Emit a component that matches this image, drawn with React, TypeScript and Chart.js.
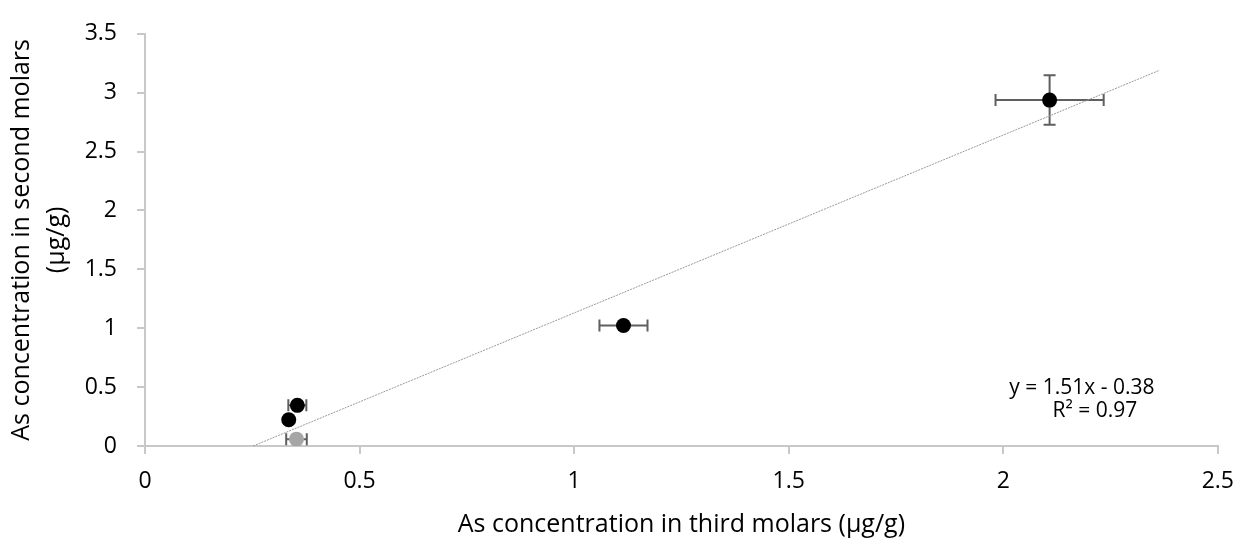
import React, { useEffect, useRef } from "react";
import { Chart, registerables } from "chart.js";

Chart.register(...registerables);

// Black points: As in third molars (x) vs second molars (y)
const thirdMolars = [0.335, 0.355, 1.115, 2.108];
const secondMolars = [0.223, 0.345, 1.023, 2.937];
const thirdMolarsErr = [0, 0.021, 0.056, 0.126];
const secondMolarsErr = [0, 0, 0, 0.21];

// Grey (excluded) point
const greyThird = [0.353];
const greySecond = [0.058];
const greyThirdErr = [0.024];
const greySecondErr = [0];

// Linear trendline y = 1.51x - 0.38 (end points as drawn)
const trendX = [0.252, 2.364];
const trendY = [0.0, 3.19];

const xTickValues = [0, 0.5, 1, 1.5, 2, 2.5];
const xTickLabels = ["0", "0.5", "1", "1.5", "2", "2.5"];
const yTickValues = [0, 0.5, 1, 1.5, 2, 2.5, 3, 3.5];
const yTickLabels = ["0", "0.5", "1", "1.5", "2", "2.5", "3", "3.5"];

const xTitle = "As concentration in third molars (µg/g)";
const yTitle = ["As concentration in second molars", "(µg/g)"];
const equationLines = ["y = 1.51x - 0.38", "R² = 0.97"];

const FONT = "'Open Sans', 'Noto Sans', sans-serif";
const AXIS_COLOR = "#C8C8C8";

const errorBarPlugin = {
  id: "errorBars",
  beforeDatasetsDraw(chart: any) {
    const ctx = chart.ctx;
    const xs = chart.scales.x;
    const ys = chart.scales.y;
    chart.data.datasets.forEach((ds: any) => {
      if (!ds.errX) return;
      ctx.save();
      ctx.strokeStyle = "#5F5F5F";
      ctx.lineWidth = 2;
      const cap = 6;
      ds.data.forEach((p: any, i: number) => {
        const ex = ds.errX[i] || 0;
        const ey = ds.errY[i] || 0;
        const cx = xs.getPixelForValue(p.x);
        const cy = ys.getPixelForValue(p.y);
        if (ex > 0) {
          const l = xs.getPixelForValue(p.x - ex);
          const r = xs.getPixelForValue(p.x + ex);
          ctx.beginPath();
          ctx.moveTo(l, cy);
          ctx.lineTo(r, cy);
          ctx.moveTo(l, cy - cap);
          ctx.lineTo(l, cy + cap);
          ctx.moveTo(r, cy - cap);
          ctx.lineTo(r, cy + cap);
          ctx.stroke();
        }
        if (ey > 0) {
          const t = ys.getPixelForValue(p.y + ey);
          const b = ys.getPixelForValue(p.y - ey);
          ctx.beginPath();
          ctx.moveTo(cx, t);
          ctx.lineTo(cx, b);
          ctx.moveTo(cx - cap, t);
          ctx.lineTo(cx + cap, t);
          ctx.moveTo(cx - cap, b);
          ctx.lineTo(cx + cap, b);
          ctx.stroke();
        }
      });
      ctx.restore();
    });
  },
};

const equationPlugin = {
  id: "equation",
  afterDatasetsDraw(chart: any) {
    const ctx = chart.ctx;
    const area = chart.chartArea;
    ctx.save();
    ctx.fillStyle = "#000000";
    ctx.font = `21px ${FONT}`;
    ctx.textAlign = "center";
    ctx.textBaseline = "alphabetic";
    ctx.fillText(equationLines[0], area.right - 136, area.bottom - 52);
    ctx.fillText(equationLines[1], area.right - 123, area.bottom - 29);
    ctx.restore();
  },
};

export default function App() {
  const canvasRef = useRef<HTMLCanvasElement | null>(null);

  useEffect(() => {
    if (!canvasRef.current) return;
    const chart = new Chart(canvasRef.current, {
      type: "scatter",
      data: {
        datasets: [
          {
            label: "Samples",
            data: thirdMolars.map((x, i) => ({ x, y: secondMolars[i] })),
            backgroundColor: "#000000",
            borderColor: "#000000",
            pointRadius: 7.5,
            pointHoverRadius: 7.5,
            borderWidth: 0,
            errX: thirdMolarsErr,
            errY: secondMolarsErr,
          } as any,
          {
            label: "Excluded",
            data: greyThird.map((x, i) => ({ x, y: greySecond[i] })),
            backgroundColor: "#A6A6A6",
            borderColor: "#A6A6A6",
            pointRadius: 7.5,
            pointHoverRadius: 7.5,
            borderWidth: 0,
            errX: greyThirdErr,
            errY: greySecondErr,
          } as any,
          {
            label: "Trend",
            type: "line",
            data: trendX.map((x, i) => ({ x, y: trendY[i] })),
            borderColor: "#9A9A9A",
            borderWidth: 1,
            borderDash: [2, 1],
            pointRadius: 0,
            fill: false,
            showLine: true,
          } as any,
        ],
      },
      options: {
        animation: false,
        responsive: false,
        maintainAspectRatio: false,
        layout: { padding: { top: 23, right: 28, bottom: 0, left: 0 } },
        plugins: {
          legend: { display: false },
          tooltip: { enabled: false },
        },
        scales: {
          x: {
            type: "linear",
            min: 0,
            max: 2.5,
            afterFit: (s: any) => {
              s.height = 98;
            },
            afterBuildTicks: (s: any) => {
              s.ticks = xTickValues.map((v) => ({ value: v }));
            },
            ticks: {
              color: "#000000",
              font: { family: FONT, size: 23 },
              padding: 14,
              maxRotation: 0,
              callback: (v: any) => {
                const i = xTickValues.indexOf(Number(v));
                return i >= 0 ? xTickLabels[i] : "";
              },
            },
            grid: {
              drawOnChartArea: false,
              drawTicks: true,
              tickLength: 8,
              color: AXIS_COLOR,
              lineWidth: 2,
            },
            border: { display: true, color: AXIS_COLOR, width: 2 },
            title: {
              display: true,
              text: xTitle,
              color: "#000000",
              font: { family: FONT, size: 25, lineHeight: 1.2 },
              padding: { top: 0, bottom: 4 },
            },
          },
          y: {
            type: "linear",
            min: 0,
            max: 3.5,
            afterFit: (s: any) => {
              s.width = 145;
            },
            afterBuildTicks: (s: any) => {
              s.ticks = yTickValues.map((v) => ({ value: v }));
            },
            ticks: {
              color: "#000000",
              font: { family: FONT, size: 23 },
              padding: 20,
              callback: (v: any) => {
                const i = yTickValues.indexOf(Number(v));
                return i >= 0 ? yTickLabels[i] : "";
              },
            },
            grid: {
              drawOnChartArea: false,
              drawTicks: true,
              tickLength: 8,
              color: AXIS_COLOR,
              lineWidth: 2,
            },
            border: { display: true, color: AXIS_COLOR, width: 2 },
            title: {
              display: true,
              text: yTitle,
              color: "#000000",
              font: { family: FONT, size: 25, lineHeight: 1.4 },
              padding: { top: 4, bottom: 0 },
            },
          },
        },
      },
      plugins: [errorBarPlugin, equationPlugin],
    } as any);
    return () => chart.destroy();
  }, []);

  return (
    <div
      style={{
        position: "fixed",
        left: 0,
        top: 0,
        width: 1248,
        height: 544,
        background: "#ffffff",
      }}
    >
      <canvas
        ref={canvasRef}
        width={1248}
        height={544}
        style={{ display: "block", width: 1248, height: 544 }}
      />
    </div>
  );
}
